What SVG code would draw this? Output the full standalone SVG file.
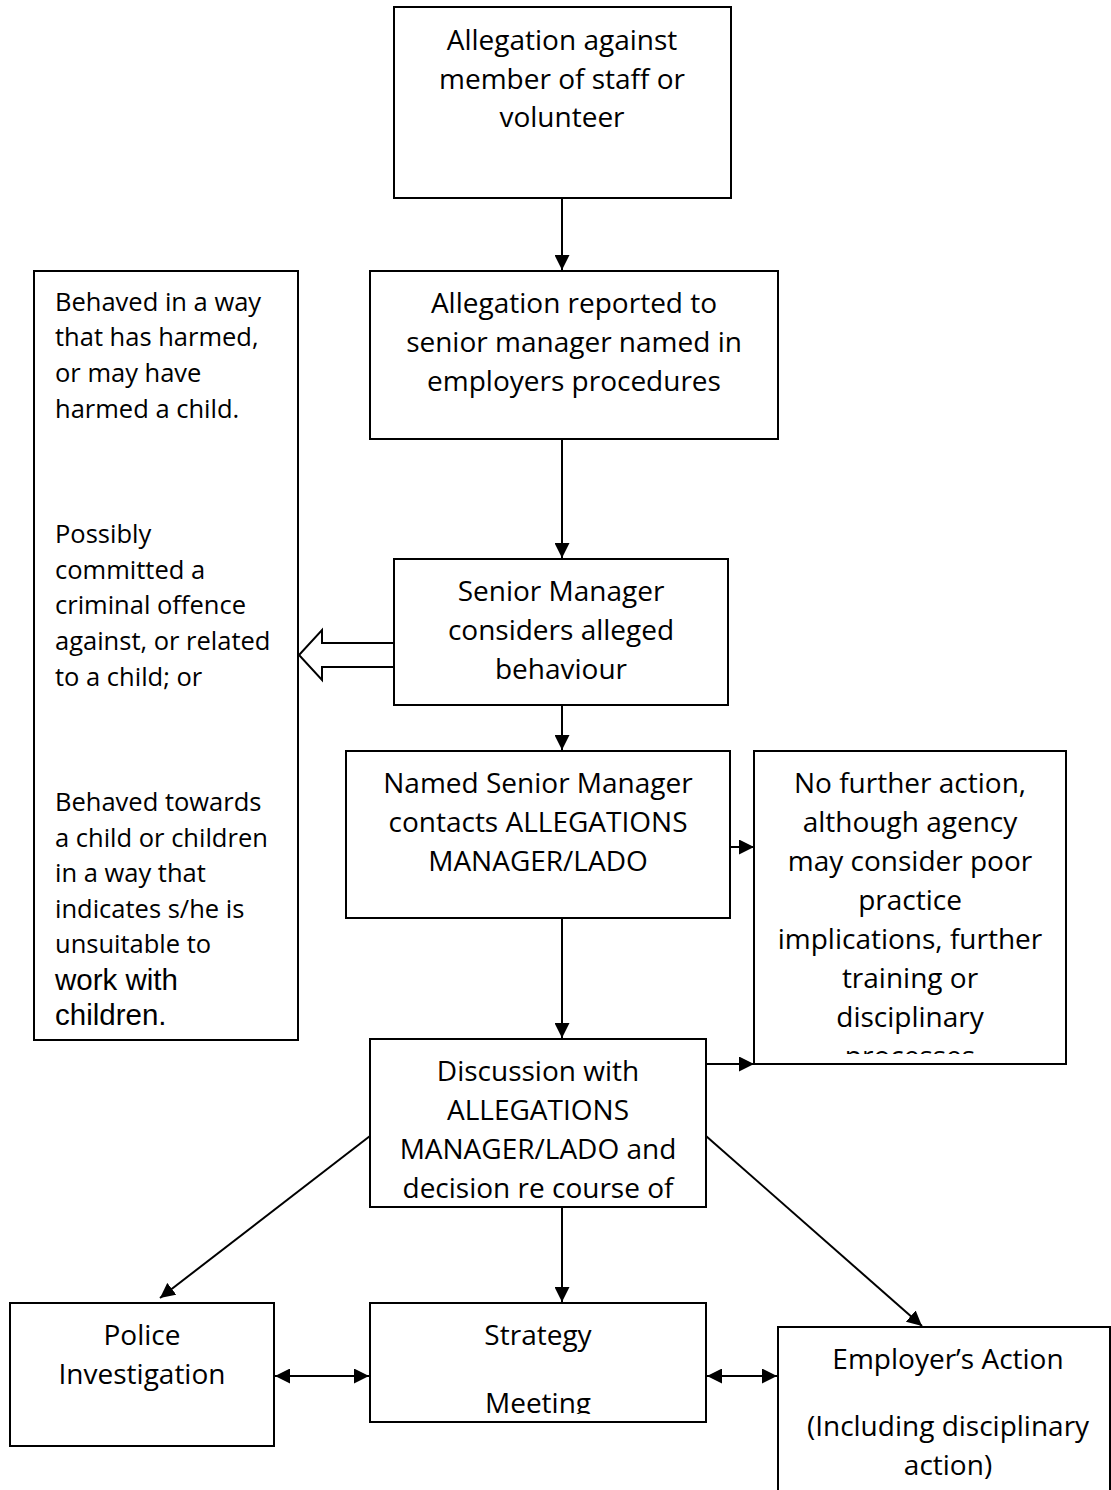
<svg xmlns="http://www.w3.org/2000/svg" width="1111" height="1490" viewBox="0 0 1111 1490">
<style>
.box{fill:#fff;stroke:#000;stroke-width:2}
.t{font-family:"Open Sans","Noto Sans",sans-serif;font-size:28px;fill:#000;text-anchor:middle}
.l{font-family:"Open Sans","Noto Sans",sans-serif;font-size:25.5px;fill:#000}
.a{font-family:"Liberation Sans",Arial,sans-serif;font-size:29.5px;fill:#000}
.c{stroke:#000;stroke-width:2;fill:none}
</style>
<defs>
<marker id="ah2" viewBox="0 0 10 10" refX="10" refY="5" markerWidth="15" markerHeight="15" markerUnits="userSpaceOnUse" orient="auto-start-reverse">
<path d="M0,0 L10,5 L0,10 z" fill="#000"/>
</marker>
<clipPath id="c5"><rect x="754" y="751" width="312" height="303"/></clipPath>
<clipPath id="cs"><rect x="370" y="1303" width="336" height="111"/></clipPath>
</defs>
<g id="connectors">
<line class="c" x1="562" y1="198" x2="562" y2="270" marker-end="url(#ah2)"/>
<line class="c" x1="562" y1="439" x2="562" y2="558" marker-end="url(#ah2)"/>
<line class="c" x1="562" y1="705" x2="562" y2="750" marker-end="url(#ah2)"/>
<line class="c" x1="730" y1="847" x2="754" y2="847" marker-end="url(#ah2)"/>
<line class="c" x1="562" y1="918" x2="562" y2="1038" marker-end="url(#ah2)"/>
<line class="c" x1="706" y1="1064" x2="754" y2="1064" marker-end="url(#ah2)"/>
<line class="c" x1="370" y1="1136" x2="160" y2="1298" marker-end="url(#ah2)"/>
<line class="c" x1="706" y1="1136" x2="922" y2="1326" marker-end="url(#ah2)"/>
<line class="c" x1="562" y1="1207" x2="562" y2="1302" marker-end="url(#ah2)"/>
<line class="c" x1="275" y1="1376" x2="369" y2="1376" marker-start="url(#ah2)" marker-end="url(#ah2)"/>
<line class="c" x1="707" y1="1376" x2="777" y2="1376" marker-start="url(#ah2)" marker-end="url(#ah2)"/>
<path class="c" d="M394,643 L322,643 L322,630 L299,655 L322,680 L322,667 L394,667" fill="#fff"/>
</g>
<g id="n1">
<rect class="box" x="394" y="7" width="337" height="191"/>
<text class="t" x="562" y="50">Allegation against</text>
<text class="t" x="562" y="89">member of staff or</text>
<text class="t" x="562" y="127">volunteer</text>
</g>
<g id="n2">
<rect class="box" x="370" y="271" width="408" height="168"/>
<text class="t" x="574" y="313">Allegation reported to</text>
<text class="t" x="574" y="352">senior manager named in</text>
<text class="t" x="574" y="391">employers procedures</text>
</g>
<g id="n3">
<rect class="box" x="394" y="559" width="334" height="146"/>
<text class="t" x="561" y="601">Senior Manager</text>
<text class="t" x="561" y="640">considers alleged</text>
<text class="t" x="561" y="679">behaviour</text>
</g>
<g id="nleft">
<rect class="box" x="34" y="271" width="264" height="769"/>
<text class="l" x="55" y="311">Behaved in a way</text>
<text class="l" x="55" y="346">that has harmed,</text>
<text class="l" x="55" y="382">or may have</text>
<text class="l" x="55" y="418">harmed a child.</text>
<text class="l" x="55" y="543">Possibly</text>
<text class="l" x="55" y="579">committed a</text>
<text class="l" x="55" y="614">criminal offence</text>
<text class="l" x="55" y="650">against, or related</text>
<text class="l" x="55" y="686">to a child; or</text>
<text class="l" x="55" y="811">Behaved towards</text>
<text class="l" x="55" y="847">a child or children</text>
<text class="l" x="55" y="882">in a way that</text>
<text class="l" x="55" y="918">indicates s/he is</text>
<text class="l" x="55" y="953">unsuitable to</text>
<text class="a" x="55" y="990">work with</text>
<text class="a" x="55" y="1025">children.</text>
</g>
<g id="n4">
<rect class="box" x="346" y="751" width="384" height="167"/>
<text class="t" x="538" y="793">Named Senior Manager</text>
<text class="t" x="538" y="832">contacts ALLEGATIONS</text>
<text class="t" x="538" y="871">MANAGER/LADO</text>
</g>
<g id="n5">
<rect class="box" x="754" y="751" width="312" height="313"/>
<g clip-path="url(#c5)">
<text class="t" x="910" y="793">No further action,</text>
<text class="t" x="910" y="832">although agency</text>
<text class="t" x="910" y="871">may consider poor</text>
<text class="t" x="910" y="910">practice</text>
<text class="t" x="910" y="949">implications, further</text>
<text class="t" x="910" y="988">training or</text>
<text class="t" x="910" y="1027">disciplinary</text>
<text class="t" x="910" y="1066">processes</text>
</g>
</g>
<g id="n6">
<rect class="box" x="370" y="1039" width="336" height="168"/>
<text class="t" x="538" y="1081">Discussion with</text>
<text class="t" x="538" y="1120">ALLEGATIONS</text>
<text class="t" x="538" y="1159">MANAGER/LADO and</text>
<text class="t" x="538" y="1198">decision re course of</text>
</g>
<g id="n7">
<rect class="box" x="10" y="1303" width="264" height="143"/>
<text class="t" x="142" y="1345">Police</text>
<text class="t" x="142" y="1384">Investigation</text>
</g>
<g id="n8">
<rect class="box" x="370" y="1303" width="336" height="119"/>
<g clip-path="url(#cs)">
<text class="t" x="538" y="1345">Strategy</text>
<text class="t" x="538" y="1413">Meeting</text>
</g>
</g>
<g id="n9">
<rect class="box" x="778" y="1327" width="332" height="170"/>
<text class="t" x="948" y="1369">Employer’s Action</text>
<text class="t" x="948" y="1436">(Including disciplinary</text>
<text class="t" x="948" y="1475">action)</text>
</g>
</svg>
